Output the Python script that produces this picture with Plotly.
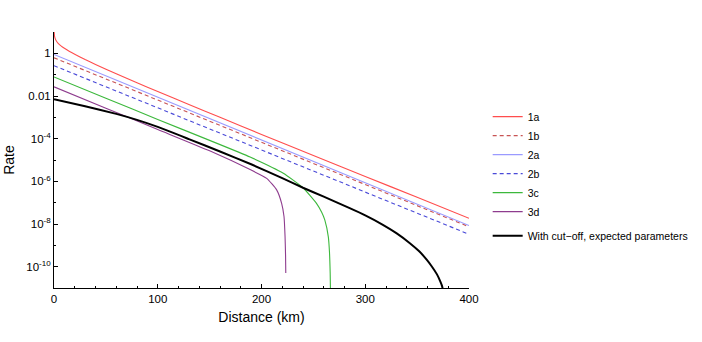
import plotly.graph_objects as go

# ---- data (distance in km, rate) ----
dist_1a = [0.1, 0.5, 1, 2, 4, 7, 10, 15, 20, 30, 40, 60, 80, 100, 130, 160, 200, 250, 300, 350, 400]
rate_1a = [10.7, 6.46, 5.13, 3.98, 2.95, 2.19, 1.74, 1.23, 0.912, 0.513, 0.302, 0.110, 0.0417,
           0.0162, 3.98e-3, 1.0e-3, 1.58e-4, 1.62e-5, 1.70e-6, 1.78e-7, 1.86e-8]

dist_1b = [0, 100, 200, 300, 400]
rate_1b = [0.617, 6.46e-3, 6.76e-5, 7.08e-7, 7.41e-9]

dist_2a = [0, 100, 200, 300, 400]
rate_2a = [0.891, 8.81e-3, 8.71e-5, 8.61e-7, 8.51e-9]

dist_2b = [0, 100, 200, 300, 400]
rate_2b = [0.263, 2.79e-3, 2.95e-5, 3.13e-7, 3.31e-9]

dist_3c = [0, 50, 100, 150, 189, 221, 240, 253, 258, 261, 264.4, 265.5, 266.2, 266.6]
rate_3c = [0.0776, 7.94e-3, 7.94e-4, 8.32e-5, 1.38e-5, 2.40e-6, 5.01e-7, 9.33e-8, 3.55e-8,
           1.55e-8, 2.51e-9, 5.01e-10, 5.01e-11, 3.16e-12]

dist_3d = [0, 50, 100, 150, 189, 205, 214.6, 219.4, 221.7, 222.7, 223.2, 223.4]
rate_3d = [0.0269, 2.69e-3, 2.69e-4, 2.69e-5, 3.55e-6, 1.38e-6, 3.98e-7, 9.33e-8, 2.24e-8,
           2.57e-9, 3.16e-10, 5.01e-11]

dist_cut = [0, 30, 60, 80, 100, 130, 160, 190, 220, 240, 260, 285, 300, 317, 330, 343, 352,
            359, 364, 369, 372, 374, 376]
rate_cut = [7.08e-3, 3.31e-3, 1.45e-3, 7.59e-4, 3.55e-4, 9.55e-5, 2.51e-5, 6.31e-6, 1.41e-6,
            5.01e-7, 1.91e-7, 5.50e-8, 2.51e-8, 9.12e-9, 3.72e-9, 1.26e-9, 5.25e-10,
            2.19e-10, 1.05e-10, 4.47e-11, 2.24e-11, 1.26e-11, 3.98e-12]

series_names = ["1a", "1b", "2a", "2b", "3c", "3d", "With cut\u2212off, expected parameters"]

x_ticks = [0, 100, 200, 300, 400]
y_ticks = [1, 1e-2, 1e-4, 1e-6, 1e-8, 1e-10]
y_ticktext = ["1", "0.01", "10<sup>-4</sup>", "10<sup>-6</sup>", "10<sup>-8</sup>", "10<sup>-10</sup>"]
y_minor = [1e-1, 1e-3, 1e-5, 1e-7, 1e-9]

styles = [
    dict(color="#ff4d4d", width=1.1, dash="solid"),
    dict(color="#c85454", width=1.1, dash="4px,3px"),
    dict(color="#9a9aff", width=1.1, dash="solid"),
    dict(color="#4a4ad8", width=1.1, dash="4px,3px"),
    dict(color="#3cb83c", width=1.1, dash="solid"),
    dict(color="#8e3c8e", width=1.1, dash="solid"),
    dict(color="#000000", width=2.0, dash="solid"),
]

data = [(dist_1a, rate_1a), (dist_1b, rate_1b), (dist_2a, rate_2a), (dist_2b, rate_2b),
        (dist_3c, rate_3c), (dist_3d, rate_3d), (dist_cut, rate_cut)]

fig = go.Figure()
for i, ((xs, ys), name, st) in enumerate(zip(data, series_names, styles)):
    line = dict(st)
    if i in (0, 4, 5, 6):
        line.update(shape="spline", smoothing=0.5)
    fig.add_trace(go.Scatter(
        x=xs, y=ys, mode="lines", name=name, line=line,
        legendgroup="main" if i < 6 else "cut",
    ))

fig.update_layout(
    width=702, height=342,
    margin=dict(l=54, r=233, t=32, b=54, autoexpand=False),
    plot_bgcolor="white", paper_bgcolor="white",
    font=dict(family="Liberation Sans, Arial, sans-serif", size=11.5, color="black"),
    legend=dict(
        x=1.045, xanchor="left", y=0.726, yanchor="top",
        font=dict(size=10.5), bgcolor="rgba(0,0,0,0)",
        traceorder="grouped", tracegroupgap=5, itemwidth=30,
    ),
)

fig.update_xaxes(
    range=[0, 400], tickvals=x_ticks, ticks="inside", ticklen=4, tickcolor="black",
    showline=True, linecolor="black", linewidth=1, showgrid=False, zeroline=False,
    automargin=False,
    minor=dict(dtick=20, ticks="inside", ticklen=2, tickcolor="black"),
    title=dict(text="Distance (km)", font=dict(size=14), standoff=8),
)
fig.update_yaxes(
    type="log", range=[-11, 1], tickvals=y_ticks, ticktext=y_ticktext,
    ticks="inside", ticklen=4, tickcolor="black",
    showline=True, linecolor="black", linewidth=1, showgrid=False, zeroline=False,
    automargin=False,
    minor=dict(tickvals=y_minor, ticks="inside", ticklen=2, tickcolor="black"),
    title=dict(text="Rate", font=dict(size=14), standoff=8),
)

fig.write_html("out.html", config={"displayModeBar": False},
               post_script="document.body.style.margin='0';")
